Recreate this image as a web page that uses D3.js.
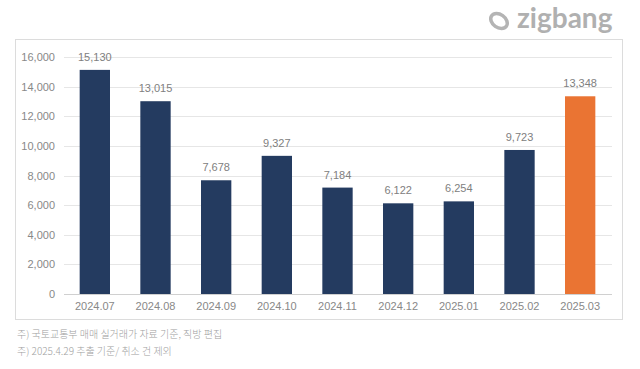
<!DOCTYPE html>
<html>
<head>
  <meta charset="utf-8">
  <script src="https://d3js.org/d3.v7.min.js"></script>
  <style>
    body { margin: 0; background: #fff; }
    svg { display: block; font-family: "Liberation Sans", "Noto Sans CJK KR", sans-serif; }
  </style>
</head>
<body>
<script>
// monthly apartment sales (Korea)
var months = ["2024.07", "2024.08", "2024.09", "2024.10", "2024.11", "2024.12", "2025.01", "2025.02", "2025.03"];
var sales = [15130, 13015, 7678, 9327, 7184, 6122, 6254, 9723, 13348];
var yTicks = [0, 2000, 4000, 6000, 8000, 10000, 12000, 14000, 16000];
var notes = ["주) 국토교통부 매매 실거래가 자료 기준, 직방 편집", "주) 2025.4.29 추출 기준/ 취소 건 제외"];

var W = 640, H = 369;
var svg = d3.select("body").append("svg").attr("width", W).attr("height", H);

// frame around the chart
svg.append("rect")
  .attr("x", 15.5).attr("y", 39.5).attr("width", 607).attr("height", 280)
  .attr("fill", "none").attr("stroke", "#dcdcdc");

var x = d3.scaleBand().domain(months).range([64.5, 610.5]).paddingInner(0.5).paddingOuter(0.25);
var y = d3.scaleLinear().domain([0, 16000]).range([294, 57]);

var fmt = d3.format(",");

// grid
svg.append("g").selectAll("line").data(yTicks).enter().append("line")
  .attr("x1", 64).attr("x2", 612)
  .attr("y1", function (d) { return Math.round(y(d)) + 0.5; })
  .attr("y2", function (d) { return Math.round(y(d)) + 0.5; })
  .attr("stroke", function (d) { return d === 0 ? "#d0d0d0" : "#e6e6e6"; });

// y labels
svg.append("g").selectAll("text").data(yTicks).enter().append("text")
  .attr("x", 55).attr("y", function (d) { return y(d) + 4; })
  .attr("text-anchor", "end").attr("font-size", 11).attr("fill", "#888")
  .text(function (d) { return fmt(d); });

// bars
svg.append("g").selectAll("rect").data(sales).enter().append("rect")
  .attr("x", function (d, i) { return x(months[i]); })
  .attr("width", x.bandwidth())
  .attr("y", function (d) { return y(d); })
  .attr("height", function (d) { return y(0) - y(d); })
  .attr("fill", function (d, i) { return i === months.length - 1 ? "#ea7433" : "#243b60"; });

// value labels
svg.append("g").selectAll("text").data(sales).enter().append("text")
  .attr("x", function (d, i) { return x(months[i]) + x.bandwidth() / 2; })
  .attr("y", function (d) { return y(d) - 9; })
  .attr("text-anchor", "middle").attr("font-size", 11).attr("fill", "#808080")
  .text(function (d) { return fmt(d); });

// x labels
svg.append("g").selectAll("text").data(months).enter().append("text")
  .attr("x", function (d) { return x(d) + x.bandwidth() / 2; })
  .attr("y", 310)
  .attr("text-anchor", "middle").attr("font-size", 11).attr("fill", "#888")
  .text(function (d) { return d; });

// footnotes
svg.append("g").selectAll("text").data(notes).enter().append("text")
  .attr("x", 17).attr("y", function (d, i) { return 338 + i * 17; })
  .attr("font-family", "'Noto Sans CJK KR', sans-serif")
  .attr("font-size", 10).attr("font-weight", 300).attr("fill", "#a0a0a0")
  .text(function (d) { return d; });

// logo
var logo = svg.append("g").attr("transform", "translate(499,21)");
logo.append("ellipse")
  .attr("rx", 9).attr("ry", 6.5).attr("transform", "rotate(35)")
  .attr("fill", "none").attr("stroke", "#b4b4b4").attr("stroke-width", 3.5);
svg.append("text")
  .attr("x", 517).attr("y", 28)
  .attr("font-family", "Lato, 'Noto Sans', sans-serif").attr("font-weight", "bold")
  .attr("font-size", 28).attr("fill", "#b0b0b0")
  .text("zigbang");
</script>
</body>
</html>
